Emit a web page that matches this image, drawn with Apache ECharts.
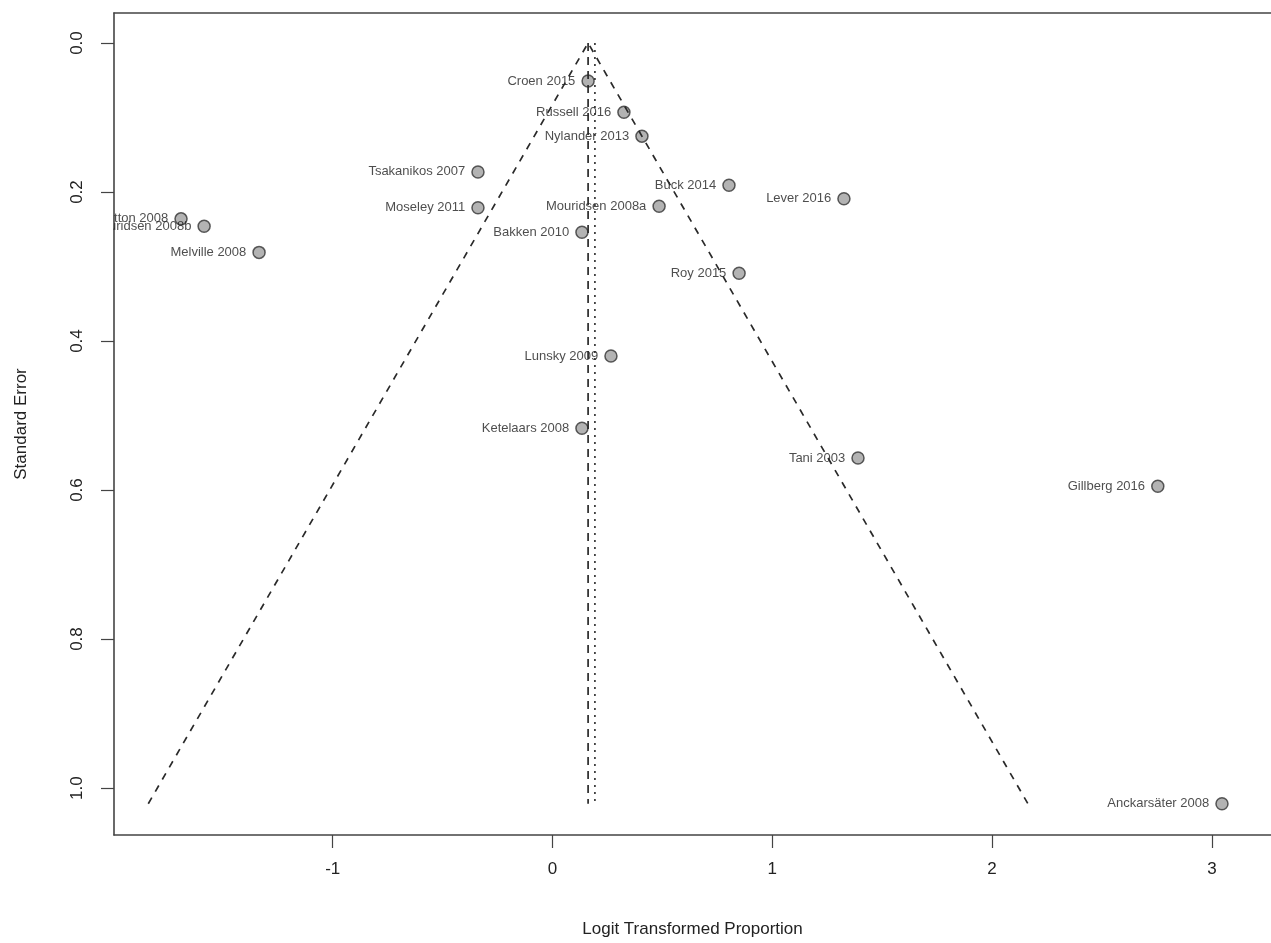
<!DOCTYPE html>
<html>
<head>
<meta charset="utf-8">
<script src="https://cdn.jsdelivr.net/npm/echarts@6/dist/echarts.min.js"></script>
<style>
html,body{margin:0;padding:0;background:#fff;}
#chart{width:1271px;height:943px;}
</style>
</head>
<body>
<div id="chart"></div>
<script>
// Study labels, logit-transformed proportions and standard errors
const studies = ["Croen 2015","Russell 2016","Nylander 2013","Tsakanikos 2007","Moseley 2011","Hutton 2008","Mouridsen 2008b","Melville 2008","Buck 2014","Lever 2016","Mouridsen 2008a","Bakken 2010","Roy 2015","Lunsky 2009","Ketelaars 2008","Tani 2003","Gillberg 2016","Anckarsäter 2008"];
const logitValues = [0.162,0.325,0.407,-0.339,-0.339,-1.690,-1.585,-1.335,0.803,1.326,0.485,0.134,0.849,0.266,0.134,1.390,2.754,3.046];
const standardErrors = [0.051,0.093,0.125,0.173,0.221,0.236,0.246,0.281,0.191,0.209,0.219,0.254,0.309,0.420,0.517,0.557,0.595,1.021];

// Funnel (pseudo 95% CI) outline and reference lines
const funnelLine = [[-1.839,1.021],[0.162,0],[2.163,1.021]];
const estimateLine = [[0.162,0],[0.162,1.021]];
const adjustedLine = [[0.193,0],[0.193,1.021]];

// Tick labels
const xTicks = [-1,0,1,2,3];
const yTicks = [0,0.2,0.4,0.6,0.8,1.0];

const chart = echarts.init(document.getElementById('chart'), null, {renderer:'canvas'});
const FONT = 'Liberation Sans, Arial, Helvetica, sans-serif';
const XMIN = -1.995, XMAX = 3.269;

const points = studies.map((s,i)=>({name:s, value:[logitValues[i], standardErrors[i]]}));
const frame = {show:true, onZero:false, lineStyle:{color:'#444', width:1.6}};

const option = {
  backgroundColor:'#ffffff',
  animation:false,
  grid:{left:114, top:13, right:0, bottom:108, show:false},
  xAxis:[{
    type:'value', min:XMIN, max:XMAX, position:'bottom',
    name:'Logit Transformed Proportion', nameLocation:'middle', nameGap:86,
    nameTextStyle:{fontFamily:FONT, fontSize:17, color:'#222'},
    axisLine:frame,
    splitLine:{show:false},
    axisTick:{show:true, inside:false, length:13, customValues:xTicks, lineStyle:{color:'#444', width:1.2}},
    axisLabel:{customValues:xTicks, margin:26, fontFamily:FONT, fontSize:17, color:'#222', formatter:v=>String(v)}
  },{
    type:'value', min:XMIN, max:XMAX, position:'top',
    axisLine:frame, axisTick:{show:false}, axisLabel:{show:false}, splitLine:{show:false}
  }],
  yAxis:{
    type:'value', inverse:true, min:-0.0403, max:1.063, position:'left',
    name:'Standard Error', nameLocation:'middle', nameGap:84, nameRotate:90,
    nameTextStyle:{fontFamily:FONT, fontSize:17, color:'#222'},
    axisLine:frame,
    splitLine:{show:false},
    axisTick:{show:true, inside:false, length:13, customValues:yTicks, lineStyle:{color:'#444', width:1.2}},
    axisLabel:{customValues:yTicks, rotate:90, margin:28, fontFamily:FONT, fontSize:17, color:'#222', formatter:v=>v.toFixed(1)}
  },
  series:[
    {
      type:'scatter', data:points, symbol:'circle', symbolSize:12, z:2, clip:true,
      itemStyle:{color:'#a0a0a0', borderColor:'#333', borderWidth:1.5},
      label:{show:true, position:'left', distance:6, formatter:p=>p.name, fontFamily:FONT, fontSize:13, color:'#222'},
      emphasis:{disabled:true}
    },
    {
      type:'line', data:funnelLine, symbol:'none', z:5, silent:true,
      lineStyle:{color:'#2a2a2a', width:1.7, type:[7,7]}
    },
    {
      type:'line', data:estimateLine, symbol:'none', z:5, silent:true,
      lineStyle:{color:'#2a2a2a', width:1.7, type:[8,6]}
    },
    {
      type:'line', data:adjustedLine, symbol:'none', z:5, silent:true,
      lineStyle:{color:'#2a2a2a', width:1.6, type:[2,5]}
    }
  ]
};
chart.setOption(option);

// Mimic clipping of study labels at the plot's left border
const yA = chart.convertToPixel({yAxisIndex:0}, 0.222);
const yB = chart.convertToPixel({yAxisIndex:0}, 0.268);
const xL = chart.convertToPixel({xAxisIndex:0}, XMIN);
chart.setOption({graphic:[{type:'rect', z:100, silent:true,
  shape:{x:0, y:yA, width:xL-1, height:yB-yA}, style:{fill:'#ffffff'}}]});
</script>
</body>
</html>
